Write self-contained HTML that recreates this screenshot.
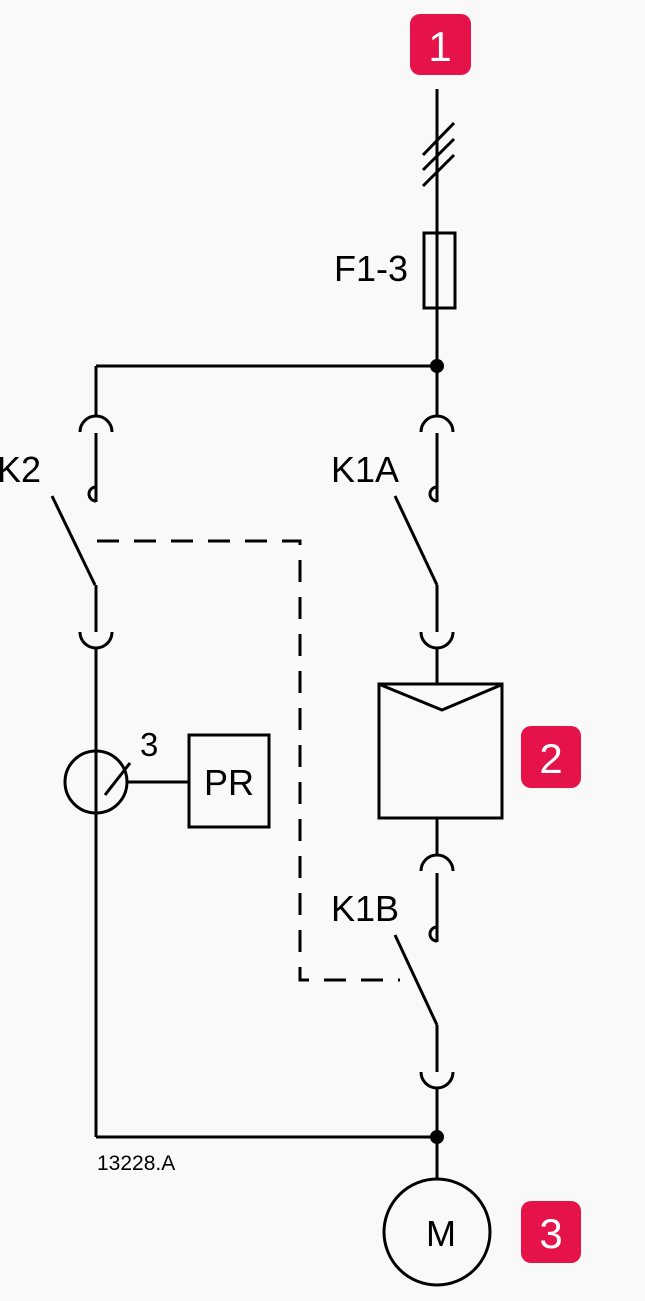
<!DOCTYPE html>
<html><head><meta charset="utf-8"><style>
html,body{margin:0;padding:0;background:#f9f9f9;}
svg{display:block;}
text{font-family:"Liberation Sans",sans-serif;fill:#000;}
</style></head><body>
<svg width="645" height="1301" viewBox="0 0 645 1301" xmlns="http://www.w3.org/2000/svg">
<rect width="645" height="1301" fill="#f9f9f9"/>
<g stroke="#000" stroke-width="3" fill="none">
<line x1="437" y1="89" x2="437" y2="366"/>
<line x1="423" y1="155" x2="454" y2="123"/>
<line x1="423" y1="170" x2="454" y2="139"/>
<line x1="423" y1="186" x2="454" y2="155"/>
<rect x="424" y="233" width="31" height="75" fill="#f9f9f9"/>
<line x1="437" y1="233" x2="437" y2="308"/>
<line x1="96" y1="366" x2="437" y2="366"/>
<line x1="96" y1="366" x2="96" y2="416"/>
<path d="M80,432 A16,16 0 0 1 112,432"/>
<line x1="96" y1="433" x2="96" y2="502"/>
<path d="M96,487 A7,7 0 0 0 96,501"/>
<line x1="52" y1="496" x2="95" y2="585"/>
<line x1="96" y1="585" x2="96" y2="632"/>
<path d="M80,632 A16,16 0 0 0 112,632"/>
<line x1="96" y1="648" x2="96" y2="1137"/>
<circle cx="96" cy="782" r="31"/>
<line x1="105" y1="795" x2="130" y2="763"/>
<line x1="127" y1="782" x2="189" y2="782"/>
<rect x="189" y="735" width="80" height="92"/>
<line x1="96" y1="1137" x2="437" y2="1137"/>
<line x1="437" y1="366" x2="437" y2="416"/>
<path d="M421,432 A16,16 0 0 1 453,432"/>
<line x1="437" y1="433" x2="437" y2="502"/>
<path d="M437,487 A7,7 0 0 0 437,501"/>
<line x1="395" y1="496" x2="437" y2="585"/>
<line x1="437" y1="585" x2="437" y2="632"/>
<path d="M421,632 A16,16 0 0 0 453,632"/>
<line x1="437" y1="648" x2="437" y2="684"/>
<rect x="379" y="684" width="123" height="134"/>
<path d="M381,685 L442,710 L501,685"/>
<line x1="437" y1="818" x2="437" y2="855"/>
<path d="M421,871 A16,16 0 0 1 453,871"/>
<line x1="437" y1="873" x2="437" y2="942"/>
<path d="M437,927 A7,7 0 0 0 437,941"/>
<line x1="395" y1="935" x2="437" y2="1025"/>
<line x1="437" y1="1025" x2="437" y2="1072"/>
<path d="M421,1072 A16,16 0 0 0 453,1072"/>
<line x1="437" y1="1088" x2="437" y2="1180"/>
<circle cx="437" cy="1232" r="53"/>
<path d="M97,541 L300,541 L300,980 L400,980" stroke-dasharray="22,15"/>
</g>
<circle cx="437" cy="366" r="7"/>
<circle cx="437" cy="1137" r="7"/>
<text x="334" y="281" font-size="36">F1-3</text>
<text x="-3" y="482" font-size="36">K2</text>
<text x="331" y="482" font-size="36">K1A</text>
<text x="331" y="921" font-size="36">K1B</text>
<text x="140" y="756" font-size="33">3</text>
<text x="229" y="795" font-size="36" text-anchor="middle">PR</text>
<text x="441" y="1246" font-size="36" text-anchor="middle">M</text>
<text x="97" y="1170" font-size="21">13228.A</text>
<g fill="#e5134a">
<rect x="410" y="14" width="61" height="61" rx="10"/>
<rect x="521" y="726" width="60" height="62" rx="10"/>
<rect x="521" y="1201" width="60" height="62" rx="10"/>
</g>
<g font-size="42" text-anchor="middle">
<text x="440" y="61" style="fill:#fff">1</text>
<text x="551" y="773" style="fill:#fff">2</text>
<text x="551" y="1248" style="fill:#fff">3</text>
</g>
</svg>
</body></html>
